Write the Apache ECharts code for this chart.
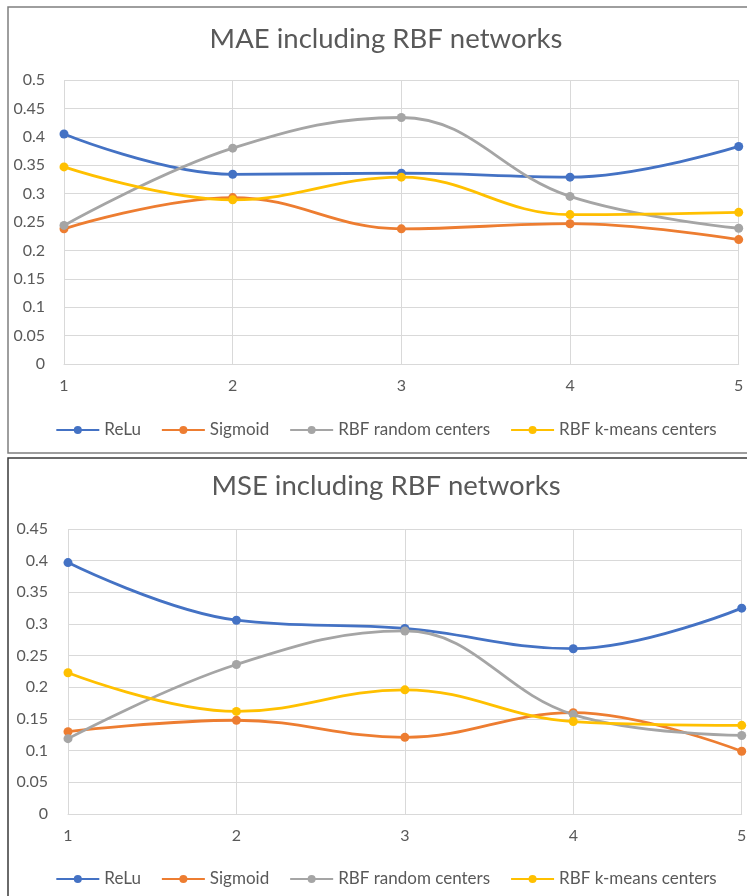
<!DOCTYPE html>
<html>
<head>
<meta charset="utf-8">
<script src="https://cdn.jsdelivr.net/npm/echarts@6/dist/echarts.min.js"></script>
<style>
  html, body { margin: 0; padding: 0; overflow: hidden; background: #ffffff; }
  #chart { width: 772px; height: 896px; }
</style>
</head>
<body>
<div id="chart"></div>
<script>
// Shared categories and series names
const categories = ['1', '2', '3', '4', '5'];
const seriesNames = ['ReLu', 'Sigmoid', 'RBF random centers', 'RBF k-means centers'];
const seriesColors = ['#4472C4', '#ED7D31', '#A5A5A5', '#FFC000'];

// Mean absolute error
const maeReLu      = [0.405, 0.334, 0.336, 0.329, 0.383];
const maeSigmoid   = [0.238, 0.293, 0.238, 0.247, 0.219];
const maeRbfRandom = [0.244, 0.380, 0.434, 0.295, 0.239];
const maeRbfKmeans = [0.347, 0.289, 0.329, 0.263, 0.267];

// Mean squared error
const mseReLu      = [0.397, 0.306, 0.293, 0.261, 0.325];
const mseSigmoid   = [0.130, 0.148, 0.121, 0.160, 0.099];
const mseRbfRandom = [0.119, 0.236, 0.289, 0.157, 0.124];
const mseRbfKmeans = [0.223, 0.162, 0.196, 0.146, 0.140];

// Value-axis ranges
const maeAxis = { min: 0, max: 0.5, interval: 0.05 };
const mseAxis = { min: 0, max: 0.45, interval: 0.05 };

const maeData = [maeReLu, maeSigmoid, maeRbfRandom, maeRbfKmeans];
const mseData = [mseReLu, mseSigmoid, mseRbfRandom, mseRbfKmeans];

const FONT = 'Lato';
const TEXT = '#595959';
const GRIDLINE = '#d9d9d9';

function xAxisFor(gridIndex) {
  return {
    type: 'category', gridIndex: gridIndex, data: categories, boundaryGap: false,
    axisLine: { lineStyle: { color: GRIDLINE, width: 1 } },
    axisTick: { show: false },
    axisLabel: { color: TEXT, fontFamily: FONT, fontSize: 16, margin: 14 },
    splitLine: { show: true, lineStyle: { color: GRIDLINE, width: 1 } }
  };
}
function yAxisFor(gridIndex, range, margin) {
  return {
    type: 'value', gridIndex: gridIndex, min: range.min, max: range.max, interval: range.interval,
    axisLine: { show: false }, axisTick: { show: false },
    axisLabel: { color: TEXT, fontFamily: FONT, fontSize: 16, margin: margin },
    splitLine: { show: true, lineStyle: { color: GRIDLINE, width: 1 } }
  };
}
function seriesFor(values, gridIndex) {
  return values.map((vals, i) => ({
    name: seriesNames[i], type: 'line', xAxisIndex: gridIndex, yAxisIndex: gridIndex,
    data: vals, smooth: 0.4, symbol: 'circle', symbolSize: 9,
    lineStyle: { width: 2.8, color: seriesColors[i] },
    itemStyle: { color: seriesColors[i] },
    emphasis: { disabled: true }, animation: false
  }));
}
function legendFor(top) {
  return {
    top: top, left: 'center', data: seriesNames, itemWidth: 43, itemHeight: 10, itemGap: 20,
    textStyle: { color: TEXT, fontFamily: FONT, fontSize: 17, lineHeight: 20 }
  };
}

const chart = echarts.init(document.getElementById('chart'), null, { renderer: 'canvas' });
chart.setOption({
  animation: false,
  color: seriesColors,
  title: [
    { text: 'MAE including RBF networks', left: 'center', top: 20,
      textStyle: { color: TEXT, fontFamily: FONT, fontSize: 27.5, fontWeight: 'normal' } },
    { text: 'MSE including RBF networks', left: 'center', top: 467,
      textStyle: { color: TEXT, fontFamily: FONT, fontSize: 27.5, fontWeight: 'normal' } }
  ],
  legend: [legendFor(415), legendFor(864)],
  grid: [
    { left: 64, top: 80, width: 674.7, height: 284 },
    { left: 68, top: 529, width: 673.7, height: 285 }
  ],
  xAxis: [xAxisFor(0), xAxisFor(1)],
  yAxis: [yAxisFor(0, maeAxis, 19), yAxisFor(1, mseAxis, 20)],
  series: seriesFor(maeData, 0).concat(seriesFor(mseData, 1)),
  graphic: [
    { type: 'rect', silent: true, shape: { x: 8, y: 7, width: 790, height: 446 },
      style: { fill: 'none', stroke: '#7f7f7f', lineWidth: 1.5 } },
    { type: 'rect', silent: true, shape: { x: 8, y: 458, width: 790, height: 460 },
      style: { fill: 'none', stroke: '#3a3a3a', lineWidth: 1.5 } }
  ]
});
</script>
</body>
</html>
